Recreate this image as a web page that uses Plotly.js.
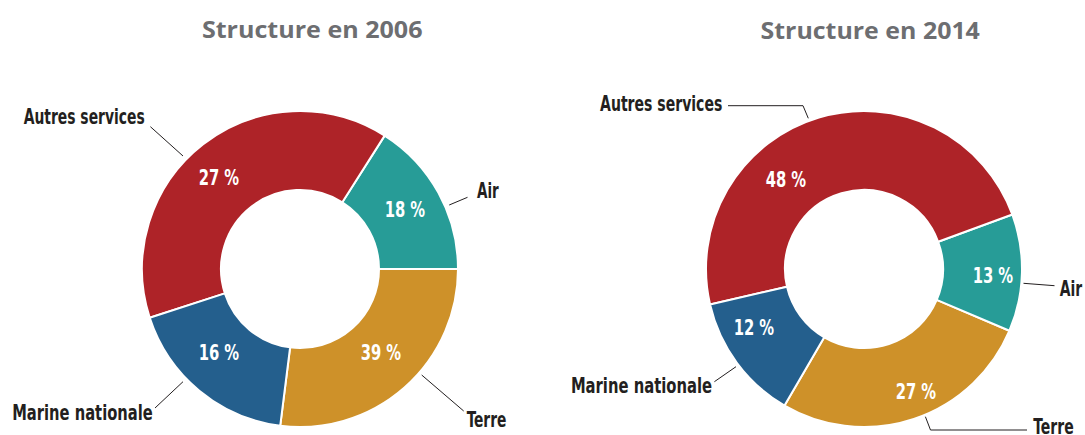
<!DOCTYPE html>
<html>
<head>
<meta charset="utf-8">
<script src="https://cdn.plot.ly/plotly-3.0.1.min.js"></script>
<style>html,body{margin:0;padding:0;background:#fff;}#chart{width:1085px;height:435px;}</style>
</head>
<body>
<div id="chart"></div>
<script>
// ---- data ----
const categories = ['Terre', 'Air', 'Autres services', 'Marine nationale'];
const shares2006 = [27, 16, 39, 18];               // slice sizes as drawn
const text2006 = ['39 %', '18 %', '27 %', '16 %']; // percentages as printed
const shares2014 = [27, 12, 48, 13];
const text2014 = ['27 %', '13 %', '48 %', '12 %'];
const titles = ['Structure en 2006', 'Structure en 2014'];

// ---- styling / layout ----
const W = 1085, H = 435;
const colors = ['#CE9129', '#279C97', '#AE2328', '#245F8D'];
const condensed = '"DejaVu Sans Condensed", "DejaVu Sans", sans-serif';
const labelFont = {family: condensed, size: 22, color: '#231F20', weight: 700};
const pctFont = {family: condensed, size: 21, color: '#FFFFFF', weight: 700};
const titleFont = {family: '"Open Sans", "Liberation Sans", sans-serif', size: 23, color: '#6D6E71', weight: 700};

function px(x, y) { return [x / W, 1 - y / H]; }
function dom(cx, cy, r) {
  return {x: [(cx - r) / W, (cx + r) / W], y: [1 - (cy + r) / H, 1 - (cy - r) / H]};
}

function pie(values, domain, rotation) {
  return {
    type: 'pie', labels: categories, values: values,
    textinfo: 'none', hole: 0.5, sort: false, direction: 'counterclockwise',
    rotation: rotation, domain: domain, hoverinfo: 'none',
    marker: {colors: colors, line: {color: '#FFFFFF', width: 2}}
  };
}

const data = [
  pie(shares2006, dom(300, 269, 158), 90),
  pie(shares2014, dom(864, 269, 158), 113)
];

// leader lines (pixel positions of label decorations)
const leaders = [
  [[150.4, 126.7], [183, 156]],
  [[449.2, 205], [467.5, 197.3]],
  [[155, 408], [183, 381.7]],
  [[421.7, 375], [463.7, 411]],
  [[728, 105.7], [803, 105.7], [808.3, 118.3]],
  [[1023.5, 283.3], [1054.5, 285.7]],
  [[714.4, 381.7], [736, 366.7]],
  [[925.4, 416.7], [930.5, 430], [1027, 430]]
];
const shapes = leaders.map(pts => ({
  type: 'path', xref: 'paper', yref: 'paper',
  path: pts.map((p, i) => { const q = px(p[0], p[1]); return (i ? 'L' : 'M') + q[0] + ',' + q[1]; }).join(' '),
  line: {color: '#231F20', width: 1}
}));

// text placements: [text, centre x, centre y, drawn width, font]
const place = [];
const outer = [
  [84, 116.3, 121], [487.6, 190, 21.7], [82.3, 412.5, 140.5], [486.9, 419.5, 39.7],
  [661.2, 103.8, 122.3], [1070.8, 288, 22.4], [641.4, 385, 141.2], [1053.2, 426, 40.4]
];
const outerText = ['Autres services', 'Air', 'Marine nationale', 'Terre'];
outer.forEach((o, i) => place.push([outerText[i % 4], o[0], o[1], o[2], labelFont]));
// percentage labels, in category order (Terre, Air, Autres, Marine)
const pctPos2006 = [[381, 353.3], [405.3, 210], [219, 177.5], [219.3, 353.3]];
const pctPos2014 = [[916.4, 391.7], [992.5, 275.7], [785.7, 180], [754, 328.3]];
text2006.forEach((t, i) => place.push([t, pctPos2006[i][0], pctPos2006[i][1], 40.5, pctFont]));
text2014.forEach((t, i) => place.push([t, pctPos2014[i][0], pctPos2014[i][1], 40.5, pctFont]));
place.push([titles[0], 312, 29, 220.6, titleFont]);
place.push([titles[1], 870.3, 30.5, 219.3, titleFont]);

const annotations = place.map(l => {
  const q = px(l[1], l[2]);
  return {text: l[0], x: q[0], y: q[1], xref: 'paper', yref: 'paper', xanchor: 'center', yanchor: 'middle',
          showarrow: false, font: l[4], borderpad: 0};
});

const layout = {
  width: W, height: H, margin: {l: 0, r: 0, t: 0, b: 0},
  paper_bgcolor: '#FFFFFF', showlegend: false,
  shapes: shapes, annotations: annotations
};
Plotly.newPlot('chart', data, layout, {displayModeBar: false, staticPlot: true}).then(gd => {
  place.forEach((l, i) => {
    const t = gd.querySelector('g.annotation[data-index="' + i + '"] text.annotation-text');
    if (t) {
      t.setAttribute('textLength', l[3]);
      t.setAttribute('lengthAdjust', 'spacingAndGlyphs');
    }
  });
});
</script>
</body>
</html>
